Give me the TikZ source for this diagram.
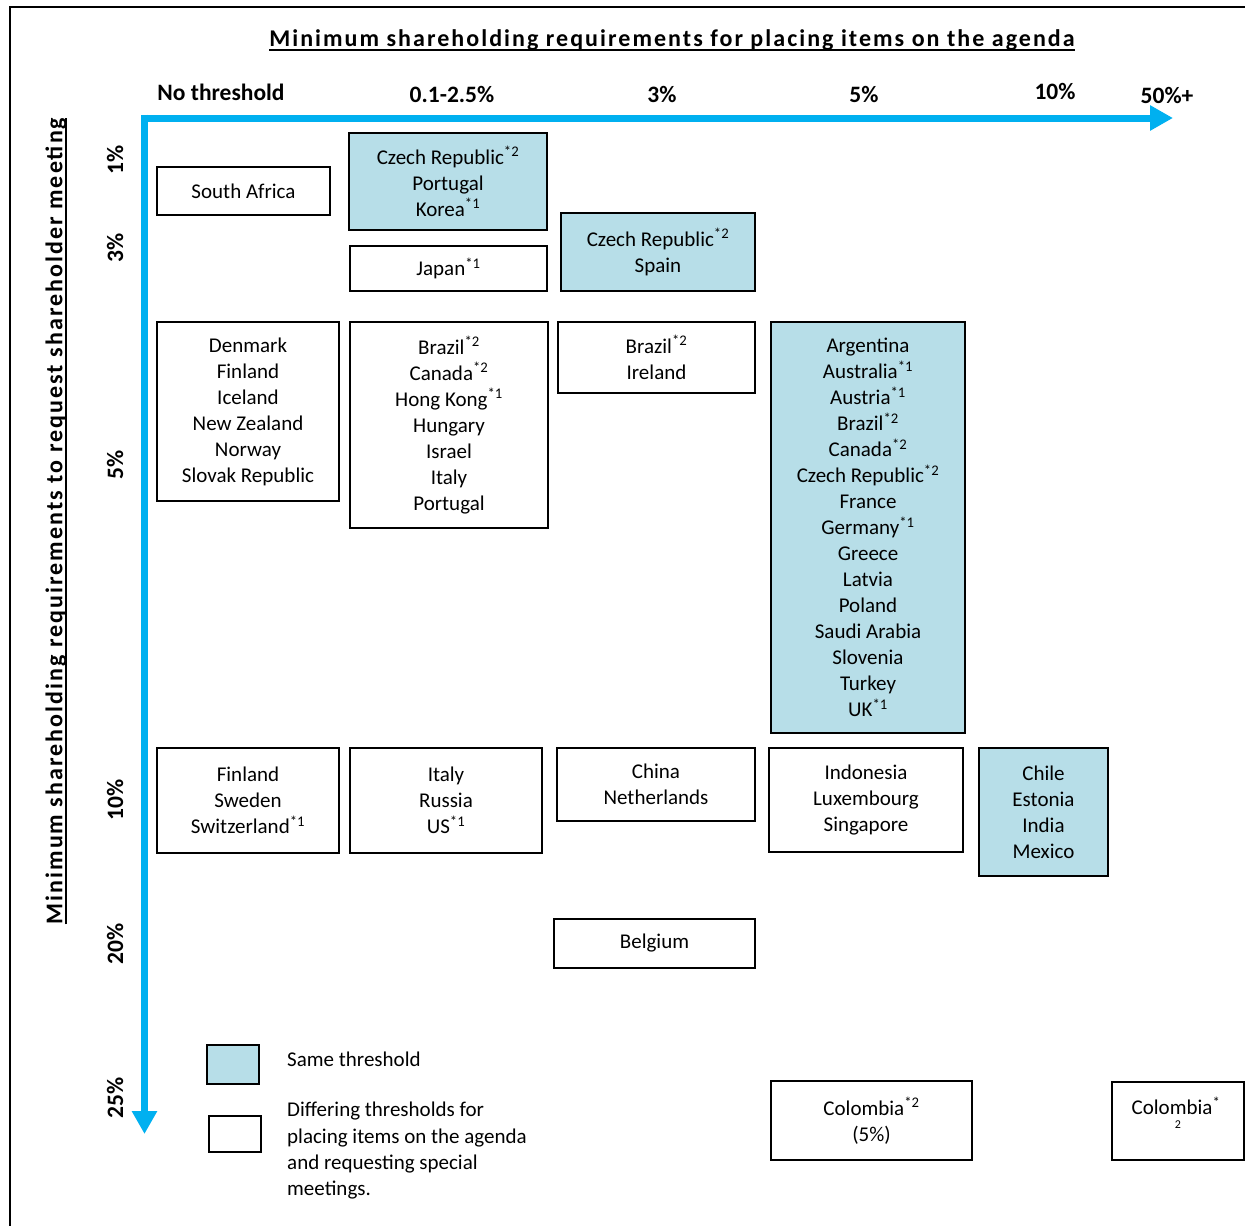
\documentclass[tikz,border=0pt]{standalone}
\usepackage{fontspec}
\setmainfont{Carlito}
\usetikzlibrary{arrows.meta}
\definecolor{axisblue}{HTML}{00B0F0}
\definecolor{boxblue}{HTML}{B7DEE8}
\newcommand{\sx}[1]{\textsuperscript{#1}}
\tikzset{
  cbox/.style={draw=black, line width=1.5pt, align=center, inner sep=0pt,
               font=\fontsize{21}{26}\selectfont},
  same/.style={cbox, fill=boxblue},
  axlab/.style={font=\bfseries\fontsize{23.5}{28}\selectfont, inner sep=0pt},
  ylab/.style={axlab, rotate=90},
  headline/.style={font=\bfseries\fontsize{24}{28}\selectfont\addfontfeatures{LetterSpace=8.5},
                   inner sep=0pt, outer sep=0pt},
  uline/.style={line width=1.6pt},
  axis/.style={draw=axisblue, line width=7pt,
               -{Triangle[length=23pt,width=24pt]}, color=axisblue},
  legtext/.style={font=\fontsize{21}{26}\selectfont, align=left, inner sep=0pt}
}
\begin{document}
\begin{tikzpicture}[x=1pt, y=-1pt]
\useasboundingbox (0,0) rectangle (1245,1226);
% outer frame
\draw[line width=2pt] (10,7) rectangle (1265,1245);

% headings
\node[headline] (title) at (672,40) {Minimum shareholding requirements for placing items on the agenda};
\draw[uline] ([yshift=-3.5pt]title.base west) -- ([yshift=-3.5pt]title.base east);
\node[headline, rotate=90] (vtitle) at (56,521) {Minimum shareholding requirements to request shareholder meeting};
\draw[uline] ([xshift=3.5pt]vtitle.base west) -- ([xshift=3.5pt]vtitle.base east);

% axes
\coordinate (o) at (144.5,118);
\coordinate (xend) at (1173,118);
\coordinate (yend) at (144.5,1134);
\draw[axis] ([xshift=-3.5pt]o) -- (xend);
\draw[axis] ([yshift=3.5pt]o) -- (yend);

% column labels
\node[axlab] (cnone) at (221,92) {No threshold};
\node[axlab] (clow)  at (452,94) {0.1-2.5\%};
\node[axlab] (cthree) at (662,94) {3\%};
\node[axlab] (cfive) at (864,94) {5\%};
\node[axlab] (cten)  at (1055,91) {10\%};
\node[axlab] (cfifty) at (1167,95) {50\%+};

% row labels
\node[ylab] (rone)   at (115,160) {1\%};
\node[ylab] (rthree) at (115,248) {3\%};
\node[ylab] (rfive)  at (115,465) {5\%};
\node[ylab] (rten)   at (115,800) {10\%};
\node[ylab] (rtwenty) at (115,944) {20\%};
\node[ylab] (rquarter) at (115,1098) {25\%};

% 1% row
\node[cbox, minimum width=173pt, minimum height=48pt] (safrica) at (243.5,191) {South Africa};
\node[same, minimum width=198pt, minimum height=97pt] (czone) at (448,181.5)
  {Czech Republic\sx{*2}\\Portugal\\Korea\sx{*1}};
% 3% row
\node[cbox, minimum width=197pt, minimum height=45pt] (japan) at (448.5,268.5) {Japan\sx{*1}};
\node[same, minimum width=194pt, minimum height=78pt] (czthree) at (658,252)
  {Czech Republic\sx{*2}\\Spain};

% 5% row
\node[cbox, minimum width=182pt, minimum height=179pt] (nofive) at (248,411.5)
  {Denmark\\Finland\\Iceland\\New Zealand\\Norway\\Slovak Republic};
\node[cbox, minimum width=198pt, minimum height=206pt] (lowfive) at (449,425)
  {Brazil\sx{*2}\\Canada\sx{*2}\\Hong Kong\sx{*1}\\Hungary\\Israel\\Italy\\Portugal};
\node[cbox, minimum width=197pt, minimum height=71pt] (threefive) at (656.5,357.5)
  {Brazil\sx{*2}\\Ireland};
\node[same, minimum width=194pt, minimum height=411pt] (fivefive) at (868,527.5)
  {Argentina\\Australia\sx{*1}\\Austria\sx{*1}\\Brazil\sx{*2}\\Canada\sx{*2}\\Czech Republic\sx{*2}\\France\\Germany\sx{*1}\\Greece\\Latvia\\Poland\\Saudi Arabia\\Slovenia\\Turkey\\UK\sx{*1}};

% 10% row
\node[cbox, minimum width=182pt, minimum height=105pt] (noten) at (248,800.5)
  {Finland\\Sweden\\Switzerland\sx{*1}};
\node[cbox, minimum width=192pt, minimum height=105pt] (lowten) at (446,800.5)
  {Italy\\Russia\\US\sx{*1}};
\node[cbox, minimum width=198pt, minimum height=73pt] (threeten) at (656,784.5)
  {China\\Netherlands};
\node[cbox, minimum width=194pt, minimum height=104pt] (fiveten) at (866,800)
  {Indonesia\\Luxembourg\\Singapore};
\node[same, minimum width=129pt, minimum height=128pt] (tenten) at (1043.5,812)
  {Chile\\Estonia\\India\\Mexico};

% 20% row
\node[cbox, minimum width=201pt, minimum height=49pt] (belgium) at (654.5,943.5) {Belgium};

% 25% row
\node[cbox, minimum width=201pt, minimum height=79pt] (colfive) at (871.5,1120.5)
  {Colombia\sx{*2}\\(5\%)};
\node[cbox, minimum width=132pt, minimum height=78pt] (colfifty) at (1178,1121) {};
\node[font=\fontsize{21}{26}\selectfont, inner sep=0pt] (colfiftytxt) at (1176,1106) {Colombia\sx{*}};
\node[font=\fontsize{12}{12}\selectfont, inner sep=0pt] (colfiftynote) at (1178,1125) {2};

% legend
\node[same, minimum width=52pt, minimum height=39pt] (legsame) at (233,1064.5) {};
\node[cbox, minimum width=52pt, minimum height=36pt] (legdiff) at (235,1134) {};
\node[legtext, anchor=west] (legsametxt) at (287,1059) {Same threshold};
\node[legtext, anchor=west] (legdifftxt) at (287,1150.5)
  {Differing thresholds for\\placing items on the agenda\\and requesting special\\meetings.};
\end{tikzpicture}
\end{document}
